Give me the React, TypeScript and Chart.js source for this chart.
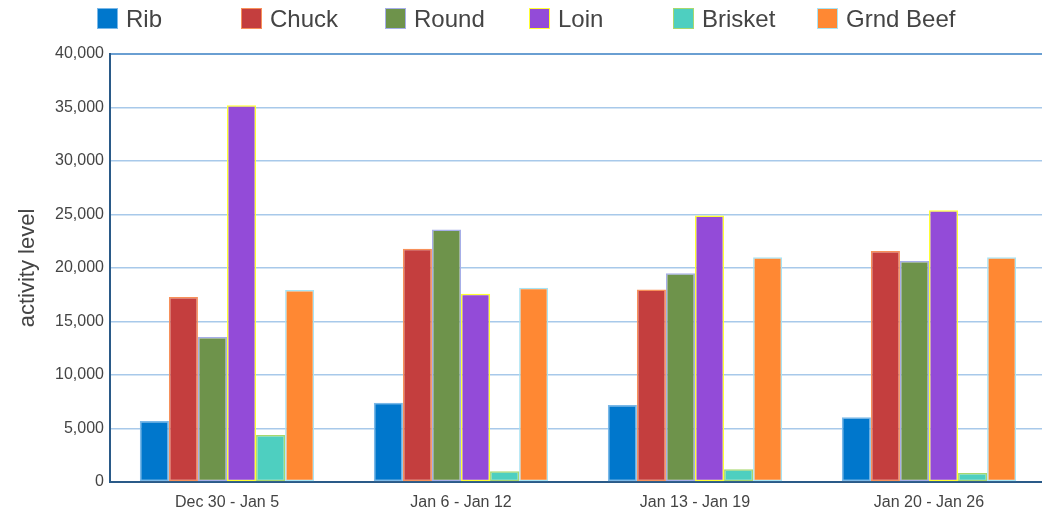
import React, { useEffect, useRef } from "react";
import { Chart, registerables } from "chart.js";

Chart.register(...registerables);

const categories = ["Dec 30 - Jan 5", "Jan 6 - Jan 12", "Jan 13 - Jan 19", "Jan 20 - Jan 26"];
const seriesNames = ["Rib", "Chuck", "Round", "Loin", "Brisket", "Grnd Beef"];
const rib = [5700, 7400, 7200, 6050];
const chuck = [17300, 21800, 18000, 21600];
const round = [13550, 23600, 19500, 20650];
const loin = [35200, 17600, 24900, 25400];
const brisket = [4400, 1000, 1200, 850];
const grndBeef = [17950, 18150, 21000, 21000];
const seriesValues = [rib, chuck, round, loin, brisket, grndBeef];
const fillColors = ["#0077cc", "#c43e3e", "#6e934b", "#934bd8", "#4ecfc0", "#ff8833"];
const borderColors = ["#7ab8e8", "#f7905a", "#a6aee8", "#ffff33", "#a8d86e", "#a8e4f4"];
const yTicks = { min: 0, max: 40000, step: 5000 };
const yTitle = "activity level";

const FONT = "'Liberation Sans', Arial, sans-serif";

export default function App() {
  const ref = useRef<HTMLCanvasElement | null>(null);

  useEffect(() => {
    if (!ref.current) return;
    const chart = new Chart(ref.current, {
      type: "bar",
      data: {
        labels: categories,
        datasets: seriesNames.map((name, i) => ({
          label: name,
          data: seriesValues[i],
          backgroundColor: fillColors[i],
          borderColor: borderColors[i],
          borderWidth: 1.5,
          borderSkipped: false,
          barPercentage: 1,
          categoryPercentage: 0.745,
        })),
      },
      options: {
        responsive: false,
        animation: false,
        layout: { padding: { left: 0, right: 4, top: 54, bottom: 0 } },
        plugins: {
          legend: { display: false },
          tooltip: { enabled: false },
        },
        scales: {
          x: {
            grid: { display: false },
            border: { color: "#2a5a88", width: 2 },
            ticks: {
              color: "#444",
              font: { family: FONT, size: 16 },
              padding: 3,
            },
            afterFit: (scale: any) => {
              scale.height = 28;
            },
          },
          y: {
            min: yTicks.min,
            max: yTicks.max,
            border: { color: "#2a5a88", width: 2 },
            grid: {
              drawTicks: false,
              color: (ctx: any) => (ctx.tick && ctx.tick.value === yTicks.max ? "#6a9fd2" : "#a8c9ea"),
              lineWidth: (ctx: any) => (ctx.tick && ctx.tick.value === yTicks.max ? 2 : 1.5),
            },
            ticks: {
              stepSize: yTicks.step,
              color: "#444",
              font: { family: FONT, size: 16 },
              padding: 6,
            },
            title: {
              display: true,
              text: yTitle,
              color: "#444",
              font: { family: FONT, size: 22 },
              padding: { top: 15, bottom: 0 },
            },
            afterFit: (scale: any) => {
              scale.width = 110;
            },
          },
        },
      },
    });
    return () => chart.destroy();
  }, []);

  return (
    <div
      style={{
        position: "fixed",
        left: 0,
        top: 0,
        width: 1042,
        height: 510,
        overflow: "hidden",
        background: "#fff",
      }}
    >
      <canvas ref={ref} width={1050} height={510} style={{ position: "absolute", left: 0, top: 0 }} />
      {seriesNames.map((name, i) => (
        <div
          key={name}
          style={{
            position: "absolute",
            left: 97 + i * 144,
            top: 5,
            height: 27,
            display: "flex",
            alignItems: "center",
            fontFamily: FONT,
            fontSize: 24,
            color: "#444",
            whiteSpace: "nowrap",
          }}
        >
          <span
            style={{
              display: "inline-block",
              width: 21,
              height: 21,
              boxSizing: "border-box",
              background: fillColors[i],
              border: `1.5px solid ${borderColors[i]}`,
              marginRight: 8,
            }}
          />
          {name}
        </div>
      ))}
    </div>
  );
}
